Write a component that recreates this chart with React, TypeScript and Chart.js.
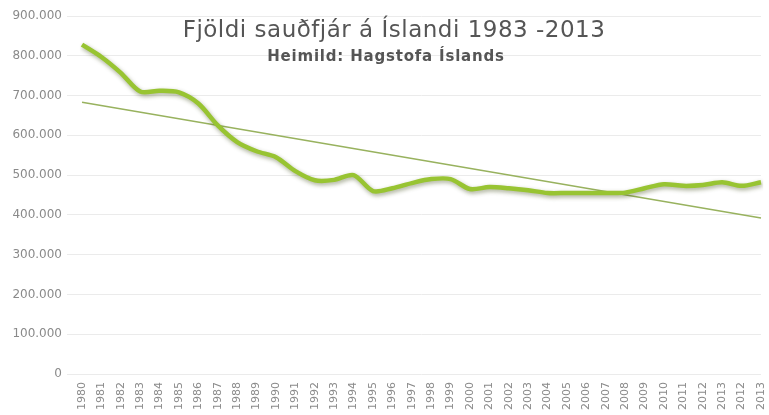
import React, { useEffect, useRef } from "react";
import { Chart, registerables } from "chart.js";

Chart.register(...registerables);

const years: string[] = [
  "1980", "1981", "1982", "1983", "1984", "1985", "1986", "1987", "1988", "1989",
  "1990", "1991", "1992", "1993", "1994", "1995", "1996", "1997", "1998", "1999",
  "2000", "2001", "2002", "2003", "2004", "2005", "2006", "2007", "2008", "2009",
  "2010", "2011", "2012", "2013", "2012", "2013",
];

const sheepCount: number[] = [
  828000, 797000, 757000, 710000, 712000, 708000, 680000, 625000, 583000, 560000,
  545000, 510000, 487000, 488000, 500000, 460000, 467000, 480000, 490000, 490000,
  465000, 470000, 467000, 462000, 455000, 455000, 455000, 455000, 456000, 467000,
  477000, 473000, 475000, 482000, 473000, 482000,
];

const trendStart = 683000;
const trendEnd = 392000;

const yTicks: number[] = [0, 100000, 200000, 300000, 400000, 500000, 600000, 700000, 800000, 900000];

const titleText = "Fjöldi sauðfjár á Íslandi 1983 -2013";
const subtitleText = "Heimild: Hagstofa Íslands";

const fmt = (v: number) => String(v).replace(/\B(?=(\d{3})+(?!\d))/g, ".");

export default function App() {
  const ref = useRef<HTMLCanvasElement | null>(null);

  useEffect(() => {
    document.body.style.margin = "0";
    const canvas = ref.current;
    if (!canvas) return;

    const trendData = years.map((_, i) =>
      i === 0 ? trendStart : i === years.length - 1 ? trendEnd : null
    );

    const titlePlugin = {
      id: "overlayTitle",
      afterDraw(chart: any) {
        const ctx = chart.ctx;
        ctx.save();
        ctx.fillStyle = "#555555";
        ctx.textAlign = "center";
        ctx.textBaseline = "middle";
        ctx.font = "23px 'DejaVu Sans'";
        (ctx as any).letterSpacing = "0.5px";
        ctx.fillText(titleText, 394, 31);
        ctx.font = "bold 15px 'DejaVu Sans'";
        (ctx as any).letterSpacing = "0.8px";
        ctx.fillText(subtitleText, 386, 57);
        ctx.restore();
      },
    };

    const shadowPlugin = {
      id: "lineShadow",
      beforeDatasetDraw(chart: any, args: any) {
        if (args.index === 0) {
          const ctx = chart.ctx;
          ctx.save();
          ctx.shadowColor = "rgba(60,70,20,0.45)";
          ctx.shadowBlur = 4;
          ctx.shadowOffsetX = 1;
          ctx.shadowOffsetY = 2;
        }
      },
      afterDatasetDraw(chart: any, args: any) {
        if (args.index === 0) chart.ctx.restore();
      },
    };

    const chart = new Chart(canvas, {
      type: "line",
      data: {
        labels: years,
        datasets: [
          {
            data: sheepCount,
            borderColor: "#98c432",
            borderWidth: 4.5,
            pointRadius: 0,
            tension: 0.3,
            fill: false,
            order: 0,
          },
          {
            data: trendData as any,
            borderColor: "#98b25e",
            borderWidth: 1.5,
            pointRadius: 0,
            spanGaps: true,
            fill: false,
            order: 1,
          },
        ],
      },
      options: {
        responsive: false,
        animation: false,
        layout: { padding: { top: 16, right: 8, left: 0, bottom: 0 } },
        plugins: {
          legend: { display: false },
          tooltip: { enabled: false },
          title: { display: false },
        },
        scales: {
          x: {
            offset: false,
            grid: { display: false, drawTicks: false },
            border: { display: false },
            ticks: {
              autoSkip: false,
              maxRotation: 90,
              minRotation: 90,
              padding: 8,
              color: "#8a8a8a",
              font: { family: "'DejaVu Sans'", size: 11 },
            },
            afterFit(axis: any) {
              axis.height = 41;
              axis.paddingLeft = 0;
              axis.paddingRight = 0;
            },
          },
          y: {
            min: 0,
            max: 900000,
            afterBuildTicks(axis: any) {
              axis.ticks = yTicks.map((v) => ({ value: v }));
            },
            grid: {
              color: "#ebebeb",
              lineWidth: 1,
              drawTicks: true,
              tickLength: 15,
            },
            border: { display: false },
            ticks: {
              padding: 5,
              color: "#8a8a8a",
              font: { family: "'DejaVu Sans'", size: 12 },
              callback: (v: any) => fmt(Number(v)),
            },
            afterFit(axis: any) {
              axis.width = 82;
            },
          },
        },
      },
      plugins: [titlePlugin, shadowPlugin],
    });

    return () => chart.destroy();
  }, []);

  return (
    <div style={{ width: 769, height: 415, background: "#ffffff" }}>
      <canvas ref={ref} width={769} height={415} style={{ display: "block" }} />
    </div>
  );
}
